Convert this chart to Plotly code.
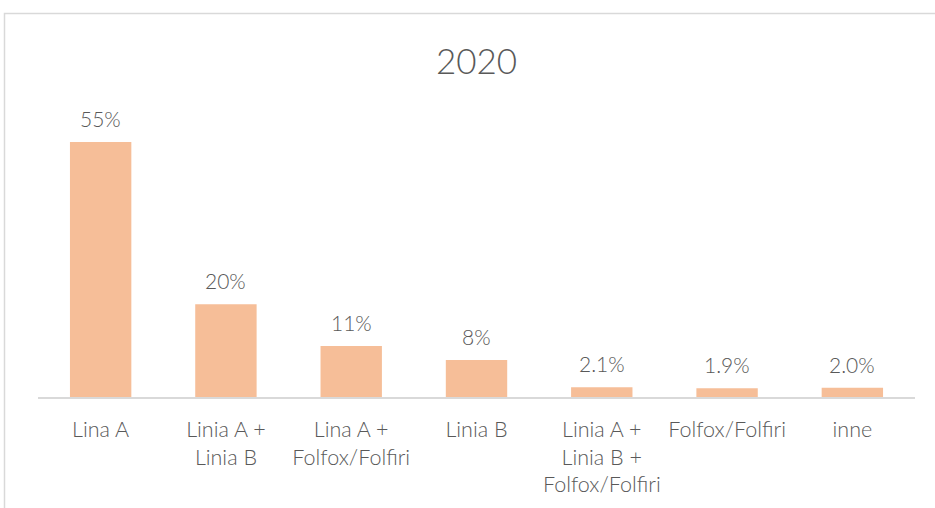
import plotly.graph_objects as go

categories = [
    "Lina A",
    "Linia A +<br>Linia B",
    "Lina A +<br>Folfox/Folfiri",
    "Linia B",
    "Linia A +<br>Linia B +<br>Folfox/Folfiri",
    "Folfox/Folfiri",
    "inne",
]
values = [55, 20, 11, 8, 2.1, 1.9, 2.0]
value_labels = ["55%", "20%", "11%", "8%", "2.1%", "1.9%", "2.0%"]
title_text = "2020"

BAR_COLOR = "#F6BE98"
TEXT_COLOR = "#595959"
GRID_COLOR = "#D9D9D9"
FONT = "Lato"

W, H = 935, 508
ML, MR, MT, MB = 38, 20, 97, 111
plot_w = W - ML - MR
plot_h = H - MT - MB

fig = go.Figure(
    go.Bar(
        x=categories,
        y=values,
        marker=dict(color=BAR_COLOR, line=dict(width=0)),
        width=0.49,
        hoverinfo="skip",
    )
)

# value labels above each bar
for cat, val, lab in zip(categories, values, value_labels):
    fig.add_annotation(
        x=cat, y=val, text=lab, showarrow=False,
        yanchor="bottom", yshift=9,
        font=dict(family=FONT, size=21, color=TEXT_COLOR, weight=300),
    )

# outer chart border
fig.add_shape(
    type="rect", xref="paper", yref="paper",
    x0=(4.5 - ML) / plot_w, x1=(W + 20 - ML) / plot_w,
    y0=-(H + 20 - MT - plot_h) / plot_h, y1=(MT + plot_h - 13.5) / plot_h,
    line=dict(color=GRID_COLOR, width=1.5), fillcolor="rgba(0,0,0,0)",
    layer="below",
)

fig.update_layout(
    width=W, height=H,
    margin=dict(l=ML, r=MR, t=MT, b=MB, autoexpand=False),
    paper_bgcolor="white", plot_bgcolor="white",
    showlegend=False,
    title=dict(
        text=title_text, x=0.5, xref="paper", xanchor="center",
        y=1 - 62 / H, yref="container", yanchor="middle",
        font=dict(family=FONT, size=35, color=TEXT_COLOR, weight=300),
    ),
    xaxis=dict(
        showline=True, linecolor=GRID_COLOR, linewidth=1.5,
        showgrid=False, zeroline=False, ticks="",
        automargin=False,
        ticklabelstandoff=12,
        tickfont=dict(family=FONT, size=21.5, color=TEXT_COLOR, weight=300),
        fixedrange=True,
    ),
    yaxis=dict(
        range=[0, plot_h / (255 / 55)], visible=False, fixedrange=True,
        automargin=False,
    ),
)

fig.write_html("out.html")
